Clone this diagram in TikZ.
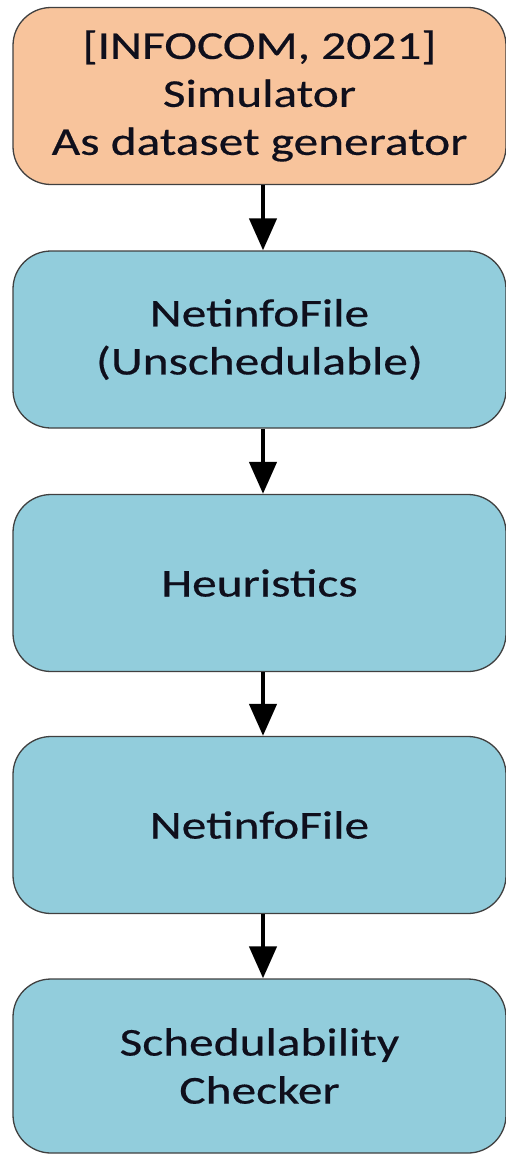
\documentclass[tikz,border=0pt]{standalone}
\usepackage{fontspec}
\setmainfont{Carlito}[FakeBold=0.4]
\usetikzlibrary{arrows.meta}
\definecolor{boxorange}{RGB}{248,196,156}
\definecolor{boxblue}{RGB}{146,205,220}
\definecolor{boxline}{RGB}{64,64,64}
\definecolor{txt}{RGB}{15,15,28}
\newcommand{\sx}[1]{\scalebox{1.25}[1]{#1}}
\begin{document}
\begin{tikzpicture}[x=1pt,y=-1pt,
  flowbox/.style={draw=boxline, line width=1.3pt, rectangle, rounded corners=38pt,
    minimum width=493pt, minimum height=177pt, align=center, text=txt,
    font=\fontsize{39.5}{48}\selectfont, inner sep=0pt},
  flowarrow/.style={-{Triangle[length=32pt,width=27pt]}, line width=4.5pt, black}]
\useasboundingbox (0,0) rectangle (506,1154);
\node[flowbox, fill=boxorange] (a) at (259.5,96) {\sx{[INFOCOM, 2021]}\\\sx{Simulator}\\\sx{As dataset generator}};
\node[flowbox, fill=boxblue] (b) at (259.5,339.5) {\sx{NetinfoFile}\\\sx{(Unschedulable)}};
\node[flowbox, fill=boxblue] (c) at (259.5,583) {\sx{Heuristics}};
\node[flowbox, fill=boxblue] (d) at (259.5,825) {\sx{NetinfoFile}};
\node[flowbox, fill=boxblue, minimum height=174pt] (e) at (259.5,1066) {\sx{Schedulability}\\\sx{Checker}};
\draw[flowarrow] ([xshift=3.5pt]a.south) -- ([xshift=3.5pt]b.north);
\draw[flowarrow] ([xshift=3.5pt]b.south) -- ([xshift=3.5pt]c.north);
\draw[flowarrow] ([xshift=3.5pt]c.south) -- ([xshift=3.5pt]d.north);
\draw[flowarrow] ([xshift=3.5pt]d.south) -- ([xshift=3.5pt]e.north);
\end{tikzpicture}
\end{document}
